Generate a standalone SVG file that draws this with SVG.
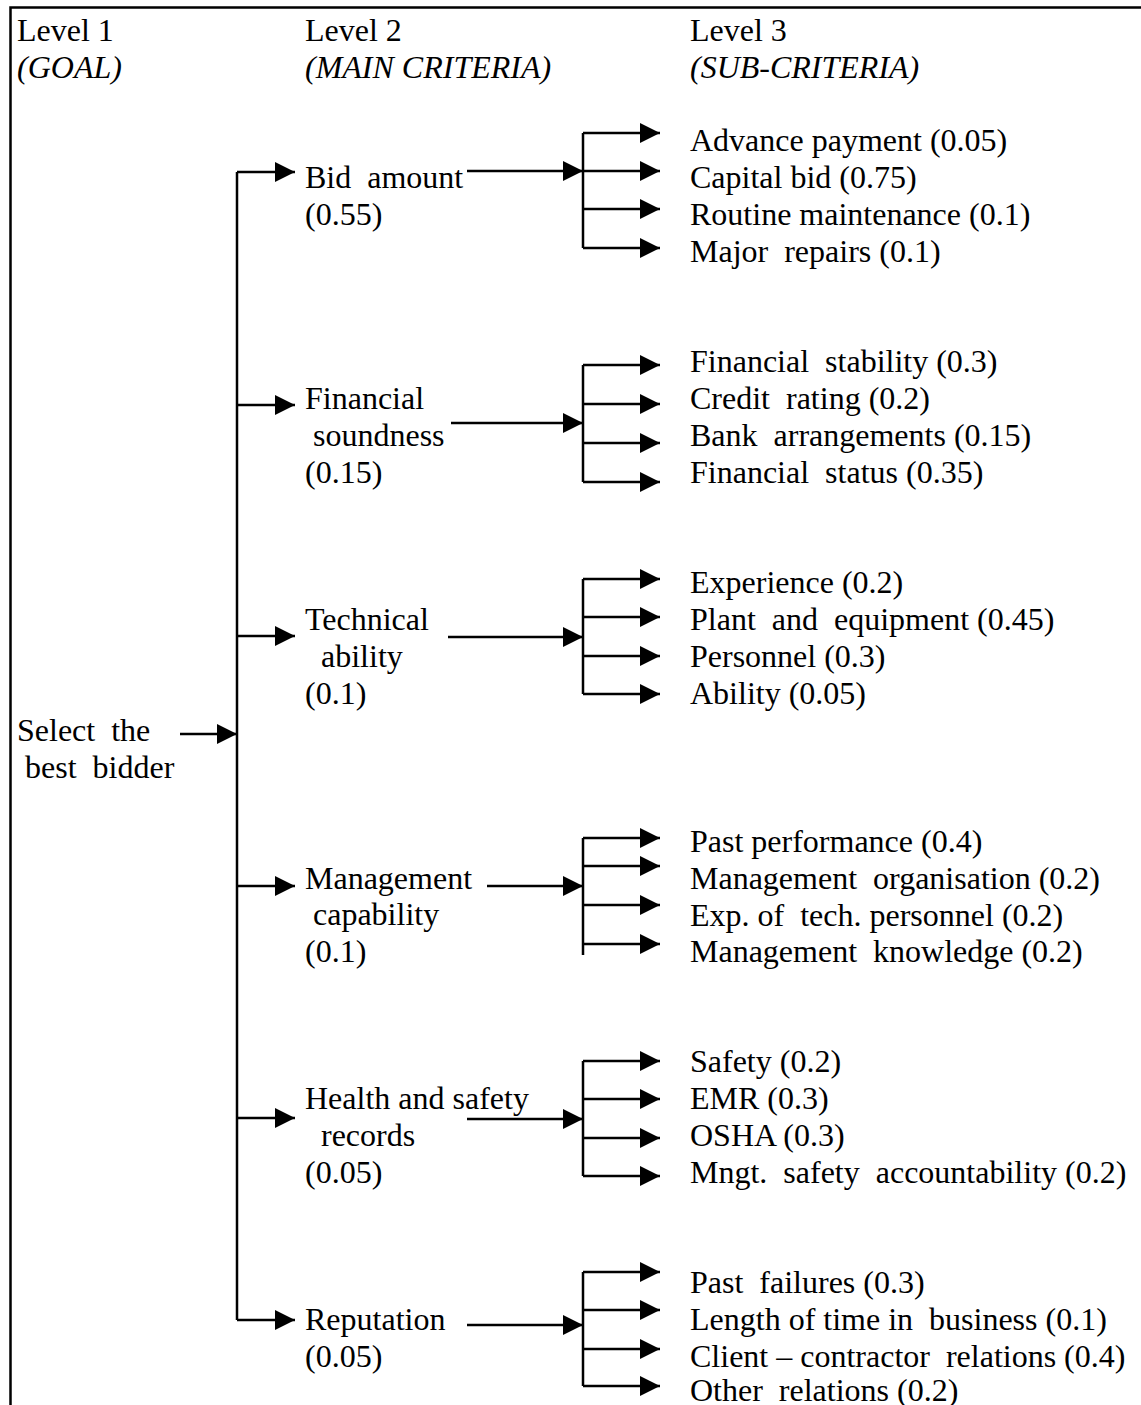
<svg xmlns="http://www.w3.org/2000/svg" width="1141" height="1405" viewBox="0 0 1141 1405">
<style>
text{font-family:"Liberation Serif","Times New Roman",serif;font-size:32px;fill:#000;white-space:pre}
.i{font-style:italic}
.c{fill:none;stroke:#000;stroke-width:2.5}
.a{fill:none;stroke:#000;stroke-width:2.5;marker-end:url(#ah)}
</style>
<defs>
<marker id="ah" markerUnits="userSpaceOnUse" viewBox="0 0 20 20" refX="20" refY="10" markerWidth="20" markerHeight="20" orient="auto">
<path d="M0,0 L20,10 L0,20 z" fill="#000"/>
</marker>
</defs>
<rect width="1141" height="1405" fill="#fff"/>
<path class="c" d="M10.5 1405 V7.5 H1141"/>
<g id="headers">
<text x="17" y="41">Level 1</text>
<text x="17" y="78" class="i">(GOAL)</text>
<text x="305" y="41">Level 2</text>
<text x="305" y="78" class="i">(MAIN CRITERIA)</text>
<text x="690" y="41">Level 3</text>
<text x="690" y="78" class="i">(SUB-CRITERIA)</text>
</g>
<g id="goal">
<text x="17" y="741">Select  the</text>
<text x="17" y="778"> best  bidder</text>
</g>
<g id="bid-amount">
<text x="305" y="188">Bid  amount</text>
<text x="305" y="225">(0.55)</text>
</g>
<g id="financial-soundness">
<text x="305" y="409">Financial</text>
<text x="305" y="446"> soundness</text>
<text x="305" y="483">(0.15)</text>
</g>
<g id="technical-ability">
<text x="305" y="630">Technical</text>
<text x="305" y="667">  ability</text>
<text x="305" y="704">(0.1)</text>
</g>
<g id="management-capability">
<text x="305" y="889">Management</text>
<text x="305" y="925"> capability</text>
<text x="305" y="962">(0.1)</text>
</g>
<g id="health-safety">
<text x="305" y="1109">Health and safety</text>
<text x="305" y="1146">  records</text>
<text x="305" y="1183">(0.05)</text>
</g>
<g id="reputation">
<text x="305" y="1330">Reputation</text>
<text x="305" y="1367">(0.05)</text>
</g>
<g id="sub-bid">
<text x="690" y="151">Advance payment (0.05)</text>
<text x="690" y="188">Capital bid (0.75)</text>
<text x="690" y="225">Routine maintenance (0.1)</text>
<text x="690" y="262">Major  repairs (0.1)</text>
</g>
<g id="sub-financial">
<text x="690" y="372">Financial  stability (0.3)</text>
<text x="690" y="409">Credit  rating (0.2)</text>
<text x="690" y="446">Bank  arrangements (0.15)</text>
<text x="690" y="483">Financial  status (0.35)</text>
</g>
<g id="sub-technical">
<text x="690" y="593">Experience (0.2)</text>
<text x="690" y="630">Plant  and  equipment (0.45)</text>
<text x="690" y="667">Personnel (0.3)</text>
<text x="690" y="704">Ability (0.05)</text>
</g>
<g id="sub-management">
<text x="690" y="852">Past performance (0.4)</text>
<text x="690" y="889">Management  organisation (0.2)</text>
<text x="690" y="926">Exp. of  tech. personnel (0.2)</text>
<text x="690" y="962">Management  knowledge (0.2)</text>
</g>
<g id="sub-health">
<text x="690" y="1072">Safety (0.2)</text>
<text x="690" y="1109">EMR (0.3)</text>
<text x="690" y="1146">OSHA (0.3)</text>
<text x="690" y="1183">Mngt.  safety  accountability (0.2)</text>
</g>
<g id="sub-reputation">
<text x="690" y="1293">Past  failures (0.3)</text>
<text x="690" y="1330">Length of time in  business (0.1)</text>
<text x="690" y="1367">Client – contractor  relations (0.4)</text>
<text x="690" y="1401">Other  relations (0.2)</text>
</g>
<g id="connectors">
<path class="a" d="M180 734 H237"/>
<path class="c" d="M237 172 V1320"/>
<path class="a" d="M237 172 H295"/>
<path class="a" d="M237 405 H295"/>
<path class="a" d="M237 636 H295"/>
<path class="a" d="M237 886 H295"/>
<path class="a" d="M237 1118 H295"/>
<path class="a" d="M237 1320 H295"/>
<path class="a" d="M467 171 H583"/>
<path class="a" d="M451 423 H583"/>
<path class="a" d="M448 637 H583"/>
<path class="a" d="M487 886 H583"/>
<path class="a" d="M467 1119 H583"/>
<path class="a" d="M467 1325 H583"/>
<path class="c" d="M583 133 V248 M583 365 V482 M583 579 V694 M583 838 V955 M583 1061 V1176 M583 1272 V1386"/>
<path class="a" d="M583 133 H660"/><path class="a" d="M583 171 H660"/><path class="a" d="M583 209 H660"/><path class="a" d="M583 248 H660"/>
<path class="a" d="M583 365 H660"/><path class="a" d="M583 404 H660"/><path class="a" d="M583 443 H660"/><path class="a" d="M583 482 H660"/>
<path class="a" d="M583 579 H660"/><path class="a" d="M583 617 H660"/><path class="a" d="M583 656 H660"/><path class="a" d="M583 694 H660"/>
<path class="a" d="M583 838 H660"/><path class="a" d="M583 866 H660"/><path class="a" d="M583 905 H660"/><path class="a" d="M583 944 H660"/>
<path class="a" d="M583 1061 H660"/><path class="a" d="M583 1099 H660"/><path class="a" d="M583 1138 H660"/><path class="a" d="M583 1176 H660"/>
<path class="a" d="M583 1272 H660"/><path class="a" d="M583 1310 H660"/><path class="a" d="M583 1349 H660"/><path class="a" d="M583 1386 H660"/>
</g>
</svg>
